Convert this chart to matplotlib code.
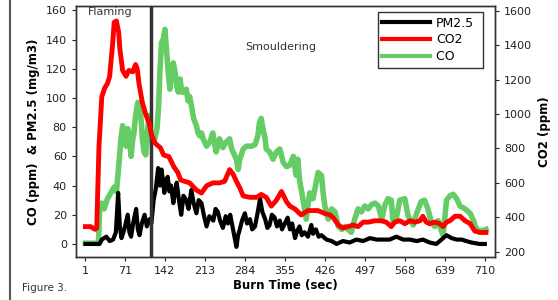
import matplotlib
matplotlib.use("Agg")
import matplotlib.pyplot as plt
from matplotlib.lines import Line2D

# PM2.5 (mg/m3), left axis
pm_t = [1, 24, 26, 30, 38, 44, 50, 55, 59, 62, 65, 70, 76, 79, 82, 86, 91, 94, 97, 101, 106, 110, 115,
        118, 122, 126, 130, 133, 136, 139, 141, 144, 147, 150, 153, 157, 160, 163, 167, 171, 175, 180,
        184, 189, 193, 198, 202, 207, 211, 216, 221, 228, 232, 236, 240, 245, 250, 254, 258, 263, 266,
        269, 272, 275, 279, 284, 288, 293, 297, 302, 306, 311, 315, 320, 324, 328, 332, 337, 341, 346,
        350, 355, 360, 364, 368, 373, 377, 381, 385, 390, 396, 402, 405, 410, 415, 420, 429, 438, 447,
        458, 470, 482, 494, 506, 518, 530, 541, 553, 565, 577, 589, 600, 612, 624, 633, 642, 651, 660,
        669, 677, 686, 701, 710]
pm_v = [0, 0, 0, 3, 5, 2, 3, 8, 35, 12, 4, 10, 20, 8, 5, 15, 24, 10, 6, 14, 20, 12, 17,
        14, 30, 38, 52, 40, 51, 42, 35, 44, 46, 36, 40, 28, 36, 42, 30, 20, 33, 30,
        24, 37, 28, 21, 30, 28, 20, 12, 19, 16, 24, 22, 16, 11, 19, 14, 20, 10, 4,
        -2, 6, 10, 16, 21, 14, 17, 10, 12, 20, 31, 22, 17, 11, 13, 20, 18, 12, 16,
        10, 14, 18, 10, 14, 4, 9, 12, 6, 8, 5, 13, 7, 10, 5, 6, 3, 2, 0,
        2, 1, 3, 2, 4, 3, 3, 3, 5, 3, 3, 2, 3, 1, 0, 3, 6, 4, 3,
        3, 2, 1, 0, 0]

# CO2 (ppm), right axis
co2_t = [1, 10, 18, 21, 25, 30, 35, 40, 44, 46, 49, 52, 56, 60, 62, 67, 73, 78, 85, 90, 93, 96, 102,
         108, 114, 118, 125, 134, 140, 149, 158, 165, 170, 177, 186, 198, 207, 216, 227, 239, 248, 257,
         263, 269, 275, 281, 293, 305, 313, 322, 331, 340, 349, 358, 364, 373, 384, 396, 405, 414, 426,
         435, 441, 450, 458, 467, 476, 485, 494, 503, 515, 526, 535, 544, 550, 559, 568, 577, 586, 595,
         600, 606, 612, 621, 630, 636, 642, 648, 657, 666, 675, 684, 692, 701, 712]
co2_v = [346, 346, 330, 338, 812, 1100, 1150, 1177, 1219, 1295, 1397, 1532, 1540, 1473, 1380, 1253,
         1219, 1253, 1245, 1287, 1261, 1177, 1066, 998, 948, 880, 829, 804, 761, 753, 693, 660, 617,
         609, 600, 558, 541, 583, 600, 600, 609, 677, 651, 609, 571, 524, 516, 516, 533, 516, 465,
         499, 550, 490, 465, 448, 414, 439, 439, 439, 422, 414, 397, 355, 338, 346, 355, 346, 372,
         372, 380, 380, 372, 346, 372, 380, 363, 380, 372, 380, 406, 372, 363, 372, 363, 346, 372,
         380, 406, 406, 380, 363, 321, 312, 312]

# CO (ppm), left axis
co_t = [1, 10, 20, 24, 26, 30, 34, 40, 46, 52, 56, 60, 64, 67, 70, 73, 76, 79, 82, 85, 87, 90, 94,
        98, 100, 102, 105, 108, 111, 114, 117, 120, 124, 128, 131, 133, 136, 139, 142, 145, 148, 151,
        154, 157, 160, 163, 166, 169, 172, 176, 180, 183, 186, 189, 193, 198, 201, 204, 207, 210, 216,
        222, 227, 230, 233, 239, 245, 251, 257, 260, 263, 269, 272, 275, 281, 287, 296, 302, 307, 310,
        313, 316, 320, 322, 328, 334, 340, 346, 352, 358, 364, 370, 375, 378, 381, 387, 393, 399, 405,
        414, 420, 423, 426, 432, 438, 444, 450, 456, 462, 467, 473, 479, 485, 491, 497, 503, 509, 515,
        521, 527, 532, 538, 544, 547, 553, 559, 568, 574, 583, 589, 597, 603, 609, 615, 621, 627, 633,
        636, 642, 648, 654, 660, 666, 675, 684, 690, 695, 704, 712]
co_v = [0.5, 0.5, 0.5, 0.5, 22, 28, 24, 31, 35, 39, 36, 53, 72, 81, 77, 67, 79, 72, 60, 72, 76, 88, 97,
        92, 84, 72, 63, 61, 77, 88, 75, 70, 72, 79, 95, 117, 138, 140, 147, 132, 117, 106,
        120, 124, 118, 108, 104, 113, 104, 104, 106, 98, 101, 95, 86, 81, 76, 74, 76, 72, 67,
        70, 76, 69, 63, 72, 66, 70, 72, 66, 63, 58, 51, 58, 65, 67, 67, 68, 74, 83,
        86, 79, 72, 65, 63, 58, 63, 65, 56, 53, 54, 60, 47, 58, 44, 31, 17, 35, 31,
        49, 47, 35, 26, 17, 24, 22, 12, 10, 12, 10, 8, 17, 24, 22, 26, 24, 27, 28,
        26, 17, 26, 31, 30, 15, 18, 30, 31, 19, 13, 21, 29, 30, 24, 15, 12, 16, 9,
        6, 30, 33, 34, 31, 26, 24, 21, 16, 10, 9, 10]

x_ticks = [1, 71, 142, 213, 284, 355, 426, 497, 568, 639, 710]
phase_split = 118

plt.rcParams['font.family'] = ['DejaVu Sans']
fig, ax = plt.subplots(figsize=(5.58, 3.0), dpi=100)
fig.subplots_adjust(left=0.136, right=0.887, top=0.98, bottom=0.143)
ax2 = ax.twinx()

ax.plot(co_t, co_v, color='#66cc66', lw=4, zorder=2)
ax.plot(pm_t, pm_v, color='black', lw=3, zorder=3)
ax2.plot(co2_t, co2_v, color='#ff0000', lw=3.5, zorder=3)
ax.axvline(phase_split, color='#333333', lw=2.5, zorder=4)

ax.set_xlim(-16, 728)
ax.set_ylim(-9, 163)
ax2.set_ylim(169, 1627)
ax.set_xticks(x_ticks)
ax.set_yticks(range(0, 161, 20))
ax2.set_yticks(range(200, 1601, 200))

for a in (ax, ax2):
    a.tick_params(labelsize=8, colors='#222222', length=3, width=0.8)
    for s in a.spines.values():
        s.set_color('#333333')
        s.set_linewidth(1)

ax.set_xlabel('Burn Time (sec)', fontsize=8.5, fontweight='bold', labelpad=2)
ax.set_ylabel('CO (ppm)  & PM2.5 (mg/m3)', fontsize=8.5, fontweight='bold', labelpad=4)
ax2.set_ylabel('CO2 (ppm)', fontsize=8.5, fontweight='bold', labelpad=4)

ax.text(5, 159, 'Flaming', fontsize=8, color='#333333', va='center')
ax.text(284, 135, 'Smouldering', fontsize=8, color='#333333', va='center')

handles = [Line2D([], [], color='black', lw=3),
           Line2D([], [], color='#ff0000', lw=3),
           Line2D([], [], color='#66cc66', lw=3)]
leg = ax2.legend(handles, ['PM2.5', 'CO2', 'CO      '], loc='upper right', bbox_to_anchor=(0.972, 0.975),
                 fontsize=9, frameon=True, fancybox=False, handlelength=3.8,
                 borderpad=0.35, labelspacing=0.3, handletextpad=0.5, borderaxespad=0)
leg.get_frame().set_edgecolor('black')
leg.get_frame().set_linewidth(1)

fig.add_artist(Line2D([10 / 558, 10 / 558], [0, 1], transform=fig.transFigure, color='#555555', lw=1.5))
fig.text(22 / 558, 1 - 288 / 300, 'Figure 3.', fontsize=7.5, color='#333333', va='center')

fig.savefig('out.png', dpi=100)
